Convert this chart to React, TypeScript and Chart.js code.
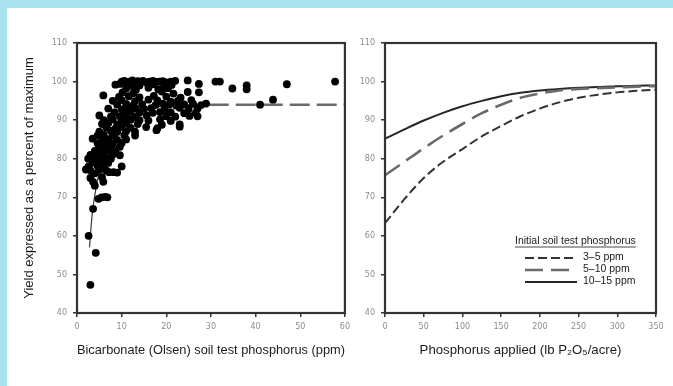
import { useEffect, useRef } from "react";
import { Chart, registerables } from "chart.js";
Chart.register(...registerables);

// ---------- tick labels ----------
const yieldTicks = [40, 50, 60, 70, 80, 90, 100, 110];
const olsenTicks = [0, 10, 20, 30, 40, 50, 60];
const appliedTicks = [0, 50, 100, 150, 200, 250, 300, 350];

// ---------- left panel: observations ----------
const olsenP = [
  10, 10.6, 11.2, 11.8, 12.4, 13, 13.6, 14.2, 14.8, 15.4, 16.2, 17, 17.8, 18.5, 19.2, 20, 21, 22, 24.8, 31, 32, 57.8,
  8.6, 9.6, 12.2, 14, 17, 19.5, 21.2, 27.3, 38, 47,
  11, 13.2, 16, 18.2, 20.4, 34.8, 38,
  10.2, 12.6, 19, 21.6, 24.8, 27.3,
  5.9, 9.4, 11.6, 14, 17.2, 20, 23.2,
  8, 10, 13, 16, 18, 21, 22.6, 25.6, 43.9,
  9, 11, 12.6, 14.6, 17.6, 19.2, 20.6, 22.2, 24, 26, 27.8, 28.9, 41,
  7, 10, 11.6, 13.2, 15, 16.6, 19.6, 23, 25, 27,
  8.4, 10.6, 12, 14, 17, 18.6, 21, 24, 26.6,
  5, 7.6, 9.6, 11, 13, 15.6, 20, 22, 25.2, 27,
  6, 8, 10, 12, 14, 16, 18.6, 21,
  5.6, 7, 9, 11, 13.6, 19, 23,
  6.6, 8.6, 10, 12, 15.5, 18, 23,
  5, 7.6, 9, 11, 13, 17.8,
  4.6, 6, 8, 10.6, 13,
  3.5, 5.6, 7, 9, 11,
  4.6, 6.6, 8, 10,
  5, 6, 7.6, 9.6,
  4, 5.6, 7, 8.6,
  3, 4.6, 6, 8, 9.6,
  2.5, 4, 5, 6.6, 7.6,
  3.6, 5.6, 7,
  2.6, 4.6, 6, 10,
  2, 3, 5, 6.6,
  4, 7.2, 8.2, 9,
  3, 5.6, 3.6, 5.9, 4,
  4.8, 5.5, 6.3, 6.8,
  3.6, 2.6, 4.2, 3,
];
const relYield = [
  100, 100.2, 99.8, 100, 100.3, 99.9, 100.1, 100, 100.2, 99.8, 100, 100.2, 99.9, 100, 100.1, 99.8, 100, 100.2, 100.3, 100, 100, 100,
  99.2, 99.4, 98.9, 99, 99.3, 98.8, 99.1, 99.4, 99, 99.3,
  98.2, 97.9, 98.4, 98, 98.3, 98.2, 98,
  97.2, 97, 97.4, 96.9, 97.3, 97.2,
  96.4, 96, 96.2, 95.9, 96.3, 96.1, 95.8,
  95, 95.2, 94.9, 95.3, 95.1, 94.8, 95, 95.2, 95.3,
  94, 94.2, 93.8, 94.1, 93.9, 94.3, 94, 93.8, 94.1, 94.2, 93.9, 94.3, 94,
  93, 92.8, 93.2, 93, 92.9, 93.1, 92.8, 93.2, 92.9, 93,
  92, 91.8, 92.2, 92, 91.9, 92.1, 92, 91.8, 91.9,
  91.2, 90.9, 91, 91.1, 90.8, 91.2, 91, 90.9, 91.1, 91,
  90, 90.2, 89.8, 90.1, 90, 89.9, 90.2, 89.8,
  89, 89.2, 88.9, 89.1, 89, 88.8, 88.9,
  88, 87.8, 88.2, 88, 88.2, 87.9, 88.3,
  87, 87.2, 86.9, 87.1, 87, 87.4,
  86, 86.2, 85.9, 86.1, 86,
  85.2, 85, 85.1, 84.9, 85,
  84, 84.2, 83.9, 84.1,
  83, 83.2, 82.9, 83.1,
  82, 81.9, 82.1, 82,
  81, 81.2, 80.9, 81.1, 80.9,
  80, 80.1, 79.9, 80.2, 80,
  79, 79.1, 78.9,
  78, 78.2, 77.9, 78,
  77.2, 77, 77.1, 76.9,
  76.2, 76.5, 76.5, 76.4,
  75, 75.2, 74, 74, 73,
  69.6, 70, 70.1, 70,
  67, 60, 55.6, 47.3,
];

// fitted response (solid rising part, then dashed plateau)
const fitP = [2.8, 3.2, 3.6, 4.2, 5, 6, 7, 8, 10, 12, 15, 20, 25, 29.5];
const fitYield = [57, 63, 67.5, 72, 76.5, 80.5, 83.5, 86, 89, 91, 92.7, 93.7, 94, 94];
const plateauP = [29.5, 60];
const plateauYield = [94, 94];

// ---------- right panel: response curves ----------
const rateApplied = [0, 25, 50, 75, 100, 125, 150, 175, 200, 225, 250, 275, 300, 325, 350];
const resp3to5 = [63.3, 69.5, 75, 79.2, 82.5, 85.8, 88.5, 91, 93, 94.6, 95.8, 96.6, 97.2, 97.6, 97.9];
const resp5to10 = [75.7, 79.2, 82.7, 86, 89, 91.8, 94, 95.8, 96.9, 97.7, 98.1, 98.3, 98.5, 98.7, 98.8];
const resp10to15 = [85.2, 87.6, 89.9, 91.9, 93.6, 95, 96.2, 97.1, 97.7, 98.1, 98.4, 98.6, 98.8, 98.9, 99];
const seriesNames = ["3–5 ppm", "5–10 ppm", "10–15 ppm"];
const legendTitle = "Initial soil test phosphorus";

const TICK_FONT = { family: "'DejaVu Sans', sans-serif", size: 8 };
const TICK_COLOR = "#8c8c8c";
const TITLE_FAMILY = "'Liberation Sans', Arial, sans-serif";
const TITLE_COLOR = "#1c1c1c";
const FRAME = "#333333";

const framePlugin = {
  id: "frame",
  afterDatasetsDraw(chart: any) {
    const { ctx, chartArea } = chart;
    const { left, top, right, bottom } = chartArea;
    ctx.save();
    ctx.strokeStyle = FRAME;
    ctx.lineWidth = 2.2;
    ctx.strokeRect(left, top, right - left, bottom - top);
    ctx.restore();
  },
};

const lineStyles = [
  { dash: [9, 4], color: "#333333", width: 2 },
  { dash: [18, 8], color: "#6a6a6a", width: 2.6 },
  { dash: [], color: "#262626", width: 2 },
];

const legendPlugin = {
  id: "insideLegend",
  afterDraw(chart: any) {
    const { ctx, chartArea } = chart;
    const { right, bottom } = chartArea;
    ctx.save();
    ctx.font = "10.5px 'Liberation Sans', Arial, sans-serif";
    ctx.fillStyle = "#1c1c1c";
    ctx.textBaseline = "middle";
    ctx.textAlign = "left";
    const tx = right - 141;
    const ty = bottom - 72;
    ctx.fillText(legendTitle, tx, ty);
    const w = ctx.measureText(legendTitle).width;
    ctx.strokeStyle = "#1c1c1c";
    ctx.lineWidth = 0.8;
    ctx.beginPath();
    ctx.moveTo(tx, ty + 6);
    ctx.lineTo(tx + w, ty + 6);
    ctx.stroke();
    const rowsY = [bottom - 55, bottom - 43, bottom - 31];
    seriesNames.forEach((name, i) => {
      const st = lineStyles[i];
      ctx.strokeStyle = st.color;
      ctx.lineWidth = st.width;
      ctx.setLineDash(st.dash);
      ctx.beginPath();
      ctx.moveTo(right - 131, rowsY[i]);
      ctx.lineTo(right - 79, rowsY[i]);
      ctx.stroke();
      ctx.setLineDash([]);
      ctx.fillText(name, right - 73, rowsY[i] - 1);
    });
    ctx.restore();
  },
};

function yScale(width: number, withTitle: boolean) {
  return {
    type: "linear",
    min: 40,
    max: 110,
    afterBuildTicks: (s: any) => {
      s.ticks = yieldTicks.map((v) => ({ value: v }));
    },
    afterFit: (s: any) => {
      s.width = width;
    },
    ticks: { font: TICK_FONT, color: TICK_COLOR, padding: 6 },
    grid: { display: true, drawOnChartArea: false, drawTicks: true, tickLength: 4, color: FRAME, lineWidth: 1.5 },
    border: { display: false },
    title: {
      display: withTitle,
      text: "Yield expressed as a percent of maximum",
      font: { family: TITLE_FAMILY, size: 13 },
      color: TITLE_COLOR,
      padding: { top: 22, bottom: 0 },
    },
  };
}

function xScale(max: number, ticks: number[], title: string, size: number) {
  const lh = size * 1.2;
  return {
    type: "linear",
    min: 0,
    max,
    afterBuildTicks: (s: any) => {
      s.ticks = ticks.map((v) => ({ value: v }));
    },
    afterFit: (s: any) => {
      s.height = 73;
    },
    ticks: { font: TICK_FONT, color: TICK_COLOR, padding: 5, maxRotation: 0 },
    grid: { display: true, drawOnChartArea: false, drawTicks: true, tickLength: 4, color: FRAME, lineWidth: 1.5 },
    border: { display: false },
    title: {
      display: true,
      text: title,
      font: { family: TITLE_FAMILY, size },
      color: TITLE_COLOR,
      padding: { top: 0, bottom: 386 - 350 - lh / 2 },
    },
  };
}

function toPoints(xs: number[], ys: number[]) {
  const n = Math.min(xs.length, ys.length);
  const out: { x: number; y: number }[] = [];
  for (let i = 0; i < n; i++) out.push({ x: xs[i], y: ys[i] });
  return out;
}

export default function App() {
  const leftRef = useRef<HTMLCanvasElement>(null);
  const rightRef = useRef<HTMLCanvasElement>(null);

  useEffect(() => {
    const left = new Chart(leftRef.current as HTMLCanvasElement, {
      type: "scatter",
      data: {
        datasets: [
          {
            label: "Observed",
            data: toPoints(olsenP, relYield),
            pointRadius: 3.9,
            pointBackgroundColor: "#000",
            pointBorderWidth: 0,
            backgroundColor: "#000",
            borderColor: "#000",
          },
          {
            label: "Fit",
            data: toPoints(fitP, fitYield),
            showLine: true,
            pointRadius: 0,
            borderColor: "#3a3a3a",
            borderWidth: 1.2,
            cubicInterpolationMode: "monotone",
          },
          {
            label: "Plateau",
            data: toPoints(plateauP, plateauYield),
            showLine: true,
            pointRadius: 0,
            borderColor: "#6a6a6a",
            borderWidth: 2.4,
            borderDash: [20, 7],
          },
        ],
      } as any,
      options: {
        responsive: false,
        animation: false,
        devicePixelRatio: 1,
        layout: { padding: { left: 0, top: 43, right: 5, bottom: 0 } },
        plugins: { legend: { display: false }, tooltip: { enabled: false } },
        scales: {
          x: xScale(60, olsenTicks, "Bicarbonate (Olsen) soil test phosphorus (ppm)", 13.3),
          y: yScale(77, true),
        } as any,
      },
      plugins: [framePlugin],
    });

    const curves = [resp3to5, resp5to10, resp10to15];
    const right = new Chart(rightRef.current as HTMLCanvasElement, {
      type: "scatter",
      data: {
        datasets: curves.map((c, i) => ({
          label: seriesNames[i],
          data: toPoints(rateApplied, c),
          showLine: true,
          pointRadius: 0,
          borderColor: lineStyles[i].color,
          borderWidth: lineStyles[i].width,
          borderDash: lineStyles[i].dash,
          cubicInterpolationMode: "monotone",
        })),
      } as any,
      options: {
        responsive: false,
        animation: false,
        devicePixelRatio: 1,
        layout: { padding: { left: 0, top: 43, right: 17, bottom: 0 } },
        plugins: { legend: { display: false }, tooltip: { enabled: false } },
        scales: {
          x: xScale(350, appliedTicks, "Phosphorus applied (lb P₂O₅/acre)", 13.2),
          y: yScale(35, false),
        } as any,
      },
      plugins: [framePlugin, legendPlugin],
    });

    return () => {
      left.destroy();
      right.destroy();
    };
  }, []);

  return (
    <div
      style={{
        position: "fixed",
        left: 0,
        top: 0,
        width: 673,
        height: 386,
        background: "#a8e3ee",
        overflow: "hidden",
      }}
    >
      <div style={{ position: "absolute", left: 7, top: 8, right: 0, bottom: 0, background: "#ffffff" }} />
      <div style={{ position: "absolute", left: 0, top: 0, width: 355, height: 386 }}>
        <canvas ref={leftRef} width={355} height={386} style={{ display: "block" }} />
      </div>
      <div style={{ position: "absolute", left: 350, top: 0, width: 323, height: 386 }}>
        <canvas ref={rightRef} width={323} height={386} style={{ display: "block" }} />
      </div>
    </div>
  );
}
